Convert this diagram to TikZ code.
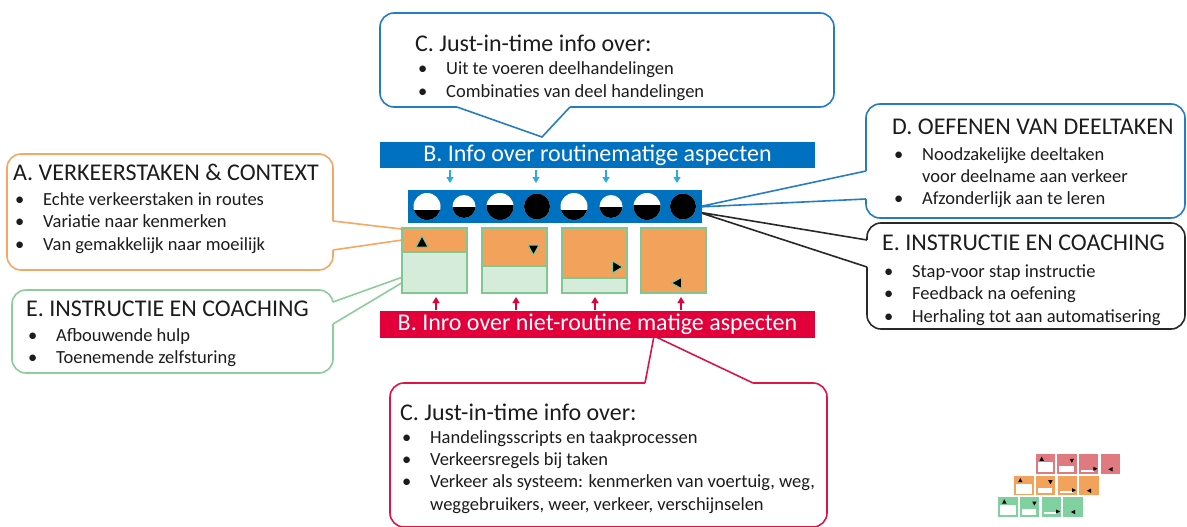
\documentclass[tikz,border=0pt]{standalone}
\usepackage{fontspec}
\setmainfont{Carlito}
\usetikzlibrary{arrows.meta}
\definecolor{ink}{RGB}{28,28,28}
\definecolor{barblue}{RGB}{0,112,192}
\definecolor{barred}{RGB}{227,0,58}
\definecolor{cblue}{RGB}{36,125,196}
\definecolor{cred}{RGB}{222,20,72}
\definecolor{corange}{RGB}{244,168,100}
\definecolor{cgreen}{RGB}{140,205,155}
\definecolor{cblack}{RGB}{40,40,40}
\definecolor{sqorange}{RGB}{242,162,90}
\definecolor{sqlight}{RGB}{213,236,219}
\definecolor{sqgreen}{RGB}{128,200,145}
\definecolor{arrblue}{RGB}{41,171,226}
\definecolor{logored}{RGB}{224,122,128}
\definecolor{logogreen}{RGB}{128,208,160}
\newcommand\myblt[4]{\node[txt] (#1) at (#2,#3) {\makebox[28pt][l]{\textbullet}#4};}
\newcommand\logorow[3]{%
\begin{scope}[shift={(#2,#3)}]
\fill[#1] (0,0) rectangle (19.5,19.5);
\fill[white] (2,8) rectangle (17.5,18);
\fill[black] (6,2.3) -- (3.8,6.5) -- (8.2,6.5) -- cycle;
\fill[#1] (21.6,0) rectangle +(19.5,19.5);
\fill[white] (23.6,12) rectangle (38.1,17.5);
\fill[black] (33.9,4.5) -- (38.3,4.5) -- (36.1,8.5) -- cycle;
\fill[#1] (43.2,0) rectangle +(19.5,19.5);
\fill[white] (45.2,15.2) rectangle (58.2,17.3);
\fill[black] (57.7,12.5) -- (57.7,16.5) -- (61.7,14.5) -- cycle;
\fill[#1] (64.8,0) rectangle +(19.5,19.5);
\fill[black] (76.8,12.8) -- (76.8,17.2) -- (72.6,15) -- cycle;
\end{scope}}
\begin{document}
\begin{tikzpicture}[x=1pt,y=-1pt,
  txt/.style={anchor=base west, inner sep=0pt, text=ink, font=\fontsize{18.5}{22}\selectfont},
  ttl/.style={txt, font=\fontsize{24}{28}\selectfont},
  cbox/.style={line width=1.6pt, fill=white, rounded corners=14pt},
  cptr/.style={line width=1.6pt, line join=round},
  bartxt/.style={inner sep=0pt, text=white, font=\fontsize{24}{28}\selectfont, text height=17pt, text depth=5pt},
  barr/.style={line width=1.2pt, arrblue, -{Triangle[width=7pt,length=6pt]}},
  rarr/.style={line width=1.2pt, barred, -{Triangle[width=7pt,length=6pt]}},
  tri/.style={fill=black, draw=sqgreen, line width=1pt, line join=round}]
\useasboundingbox (0,0) rectangle (1187,527);
\fill[white] (0,0) rectangle (1187,527);

% --- callout C top (blue)
\draw[cblue, cbox] (380,13) rectangle (834,107);
\fill[white] (457,103) -- (457,107) -- (542,137) -- (570,107) -- (570,103) -- cycle;
\draw[cblue, cptr] (457,107) -- (542,137) -- (570,107);

% --- callout A (orange)
\draw[corange, cbox] (7,154) rectangle (333,270);
\fill[white] (329,221) -- (333,221) -- (444,234) -- (333,250) -- (329,250) -- cycle;
\draw[corange, cptr] (333,221) -- (444,234) -- (333,250);

% --- callout E left (green)
\draw[cgreen, cbox] (12,290) rectangle (333,373);
\fill[white] (329,302) -- (333,302) -- (425,269) -- (333,324) -- (329,324) -- cycle;
\draw[cgreen, cptr] (333,302) -- (425,269) -- (333,324);

% --- callout D (blue)
\draw[cblue, cbox] (866,104) rectangle (1185,218);
\fill[white] (870,171) -- (866,171) -- (698,207) -- (866,199) -- (870,199) -- cycle;
\draw[cblue, cptr] (866,171) -- (698,207) -- (866,199);

% --- callout E right (black)
\draw[cblack, cbox] (867,223) rectangle (1185,329);
\fill[white] (871,240) -- (867,240) -- (698,212) -- (867,267) -- (871,267) -- cycle;
\draw[cblack, cptr] (867,240) -- (698,212) -- (867,267);

% --- callout C bottom (red)
\draw[cred, cbox] (390,383) rectangle (827,527);
\fill[white] (645,387) -- (645,383) -- (654,336) -- (753,383) -- (753,387) -- cycle;
\draw[cred, cptr] (645,383) -- (654,336) -- (753,383);

% --- bars
\fill[barblue] (380,142) rectangle (815,168);
\node[bartxt] (bbar) at (597.5,155.5) {B. Info over routinematige aspecten};
\fill[barred] (380,311) rectangle (815,338);
\node[bartxt] (rbar) at (597.5,324.5) {B. Inro over niet-routine matige aspecten};

% --- arrows
\foreach \ax in {450,536,606,677} \draw[barr] (\ax,170) -- (\ax,183);
\foreach \ax in {436,516,595,681} \draw[rarr] (\ax,310) -- (\ax,297);

% --- circle band
\fill[barblue] (408,190) rectangle (702,223);
\foreach \cx/\r/\s in {427/13.5/3.7, 464/11.5/0, 500/13.5/-1.7, 537/13/-13.5, 574/13.5/3.7, 611/11.5/0, 647/13.5/-1.7, 683/13/-13.5}{
  \fill[white] (\cx,206.5) circle[radius=\r pt];
  \begin{scope}
    \clip (\cx,206.5) circle[radius=\r pt];
    \fill[black] ({\cx-\r-1},{206.5+\s}) rectangle ({\cx+\r+1},{206.5+\r+1});
  \end{scope}
}

% --- squares
\foreach \sx/\sp in {402/252, 482/266, 562/278, 641/293}{
  \fill[sqorange] (\sx,228) rectangle ({\sx+65},\sp);
  \fill[sqlight] (\sx,\sp) rectangle ({\sx+65},293);
  \draw[sqgreen, line width=1.5pt] (\sx,\sp) -- ({\sx+65},\sp);
  \draw[sqgreen, line width=1.5pt] (\sx,228) rectangle ({\sx+65},293);
}
\draw[tri] (422,236) -- (416,247) -- (428,247) -- cycle;
\draw[tri] (528,245) -- (539,245) -- (533.5,255) -- cycle;
\draw[tri] (612.5,261) -- (612.5,273) -- (622.5,267) -- cycle;
\draw[tri] (681.5,277.5) -- (681.5,288.5) -- (671.5,283) -- cycle;

% --- logo
\logorow{logored}{1035.7}{454.3}
\logorow{sqorange}{1014.3}{475.7}
\logorow{logogreen}{998.3}{497}

% --- texts
\node[ttl] (ctT) at (415,52) {C. Just-in-time info over:};
\myblt{ct1}{418}{75}{Uit te voeren deelhandelingen}
\myblt{ct2}{418}{97}{Combinaties van deel handelingen}

\node[ttl] (aT) at (13,180) {A. VERKEERSTAKEN \& CONTEXT};
\myblt{a1}{15}{205}{Echte verkeerstaken in routes}
\myblt{a2}{15}{227}{Variatie naar kenmerken}
\myblt{a3}{15}{250}{Van gemakkelijk naar moeilijk}

\node[ttl] (egT) at (26,316) {E. INSTRUCTIE EN COACHING};
\myblt{eg1}{28}{341}{Afbouwende hulp}
\myblt{eg2}{28}{363}{Toenemende zelfsturing}

\node[ttl] (dT) at (892,135) {D. OEFENEN VAN DEELTAKEN};
\myblt{d1}{894}{160}{Noodzakelijke deeltaken}
\node[txt] (d1b) at (922,182) {voor deelname aan verkeer};
\myblt{d2}{894}{204}{Afzonderlijk aan te leren}

\node[ttl] (ebT) at (882,250) {E. INSTRUCTIE EN COACHING};
\myblt{eb1}{884}{277}{Stap-voor stap instructie}
\myblt{eb2}{884}{299}{Feedback na oefening}
\myblt{eb3}{884}{322}{Herhaling tot aan automatisering}

\node[ttl] (crT) at (400,420) {C. Just-in-time info over:};
\myblt{cr1}{402}{443}{Handelingsscripts en taakprocessen}
\myblt{cr2}{402}{465}{Verkeersregels bij taken}
\myblt{cr3}{402}{487}{Verkeer als systeem: kenmerken van voertuig, weg,}
\node[txt] (cr3b) at (430,510) {weggebruikers, weer, verkeer, verschijnselen};
\end{tikzpicture}
\end{document}
